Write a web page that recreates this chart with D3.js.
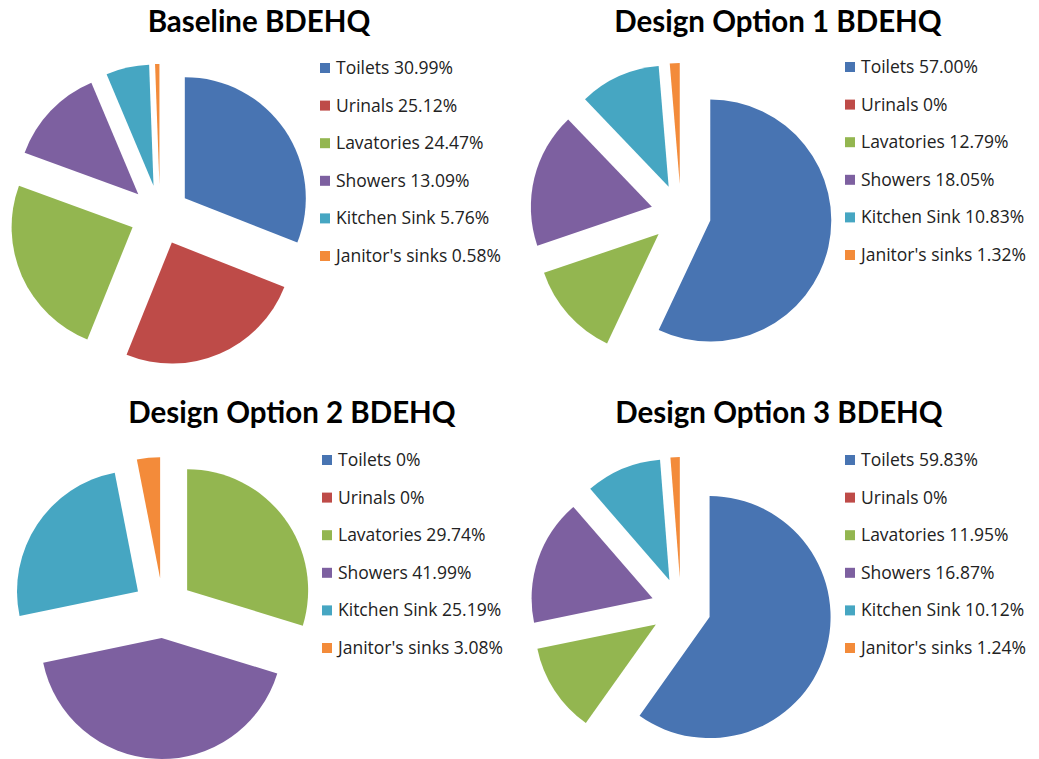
<!DOCTYPE html>
<meta charset="utf-8" />
<title>BDEHQ water use</title>
<script src="https://cdn.jsdelivr.net/npm/d3@7"></script>

<style>
  body {
    margin: 0;
    padding: 0;
    background: #fff;
    font-family: Lato, "Open Sans", sans-serif;
  }

  .title {
    font-weight: 700;
    font-size: 29.5px;
    fill: #000;
  }

  .legend text {
    font-family: "Open Sans", sans-serif;
    font-size: 17.5px;
    fill: #222;
  }
</style>

<body>
  <div id="chart"></div>
</body>

<script>
  // fixture categories + colours
  const categories = ["Toilets", "Urinals", "Lavatories", "Showers", "Kitchen Sink", "Janitor's sinks"];
  const colors = ["#4874b2", "#be4b48", "#93b650", "#7d60a0", "#46a6c2", "#f38b3a"];

  const titles = ["Baseline BDEHQ", "Design Option 1 BDEHQ", "Design Option 2 BDEHQ", "Design Option 3 BDEHQ"];

  // percentages as printed in each legend
  const baseline = [30.99, 25.12, 24.47, 13.09, 5.76, 0.58];
  const option1 = [57.00, 0, 12.79, 18.05, 10.83, 1.32];
  const option2 = [0, 0, 29.74, 41.99, 25.19, 3.08];
  const option3 = [59.83, 0, 11.95, 16.87, 10.12, 1.24];

  const labels = [
    ["30.99%", "25.12%", "24.47%", "13.09%", "5.76%", "0.58%"],
    ["57.00%", "0%", "12.79%", "18.05%", "10.83%", "1.32%"],
    ["0%", "0%", "29.74%", "41.99%", "25.19%", "3.08%"],
    ["59.83%", "0%", "11.95%", "16.87%", "10.12%", "1.24%"]
  ];

  const series = [baseline, option1, option2, option3];

  const W = 1039, H = 759;
  const radius = 121, explode = 30;

  // panel anchors (pie centre), roughly 2x2 grid
  const panels = [
    { cx: 160, cy: 215, tx: 259, ty: 32, lx: 320, ly: 68 },
    { cx: 681, cy: 214, tx: 778, ty: 32, lx: 845, ly: 67 },
    { cx: 163, cy: 608, tx: 292, ty: 423, lx: 322, ly: 460 },
    { cx: 681, cy: 608, tx: 779, ty: 423, lx: 845, ly: 460 }
  ];

  const svg = d3.select("#chart")
    .append("svg")
    .attr("width", W)
    .attr("height", H);

  const pie = d3.pie().sort(null).value(function (d) { return d; });
  const arc = d3.arc().innerRadius(0).outerRadius(radius);
  const color = d3.scaleOrdinal().domain(categories).range(colors);
  const rowStep = 37.6;

  series.forEach(function (vals, i) {
    const p = panels[i];

    svg.append("text")
      .attr("class", "title")
      .attr("x", p.tx)
      .attr("y", p.ty)
      .attr("text-anchor", "middle")
      .text(titles[i]);

    const g = svg.append("g")
      .attr("transform", "translate(" + p.cx + "," + p.cy + ")");

    g.selectAll("path")
      .data(pie(vals).map(function (d, j) { d.cat = categories[j]; return d; })
        .filter(function (d) { return d.value > 0; }))
      .enter()
      .append("path")
      .attr("d", arc)
      .attr("fill", function (d) { return color(d.cat); })
      .attr("transform", function (d) {
        // pull each slice out along its bisector
        const mid = (d.startAngle + d.endAngle) / 2;
        return "translate(" + (Math.sin(mid) * explode) + "," + (-Math.cos(mid) * explode) + ")";
      });

    const legend = svg.append("g")
      .attr("class", "legend")
      .attr("transform", "translate(" + p.lx + "," + p.ly + ")");

    const y = d3.scalePoint().domain(categories).range([0, rowStep * 5]);

    const rows = legend.selectAll("g")
      .data(categories)
      .enter()
      .append("g")
      .attr("transform", function (c) { return "translate(0," + y(c) + ")"; });

    rows.append("rect")
      .attr("x", 0)
      .attr("y", -5)
      .attr("width", 10)
      .attr("height", 10)
      .attr("fill", function (c) { return color(c); });

    rows.append("text")
      .attr("x", 16)
      .attr("y", 6)
      .text(function (c, j) { return c + " " + labels[i][j]; });
  });
</script>
